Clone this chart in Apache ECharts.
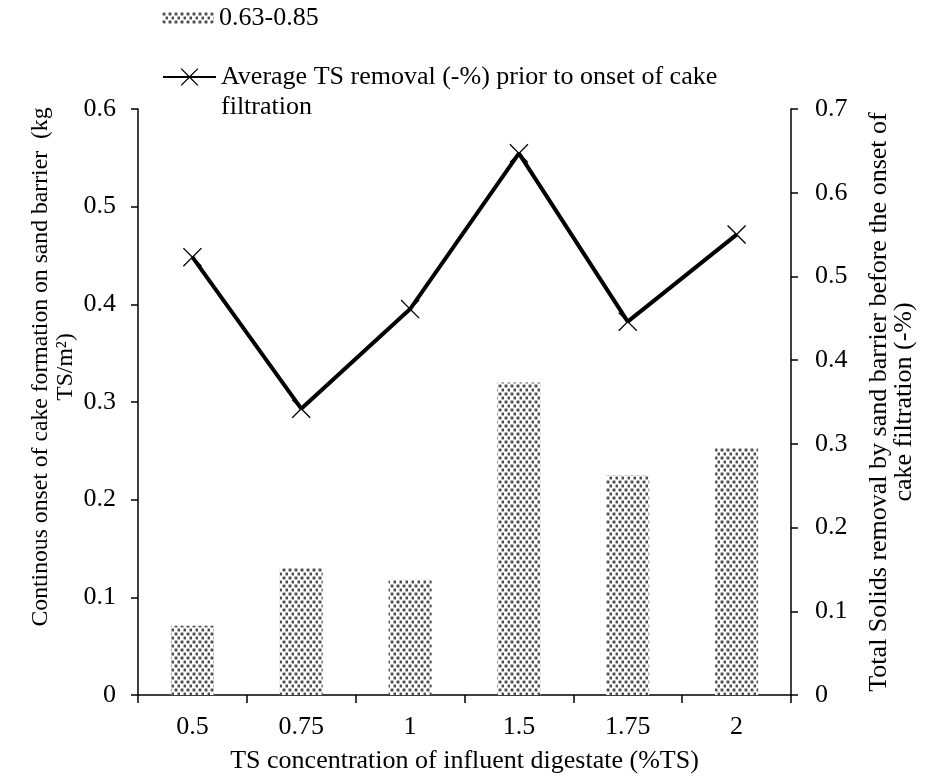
<!DOCTYPE html>
<html>
<head>
<meta charset="utf-8">
<script src="https://cdn.jsdelivr.net/npm/echarts@6/dist/echarts.min.js"></script>
<style>
  html, body { margin: 0; padding: 0; background: #fff; }
  #chart { width: 931px; height: 780px; }
</style>
</head>
<body>
<div id="chart"></div>
<script>
// categories (TS concentration, %TS)
var categories = ['0.5', '0.75', '1', '1.5', '1.75', '2'];
// bars: continous onset of cake formation (kg TS/m2), left axis
var cakeOnset = [0.071, 0.130, 0.118, 0.320, 0.225, 0.253];
// line: average TS removal prior to onset of cake filtration, right axis
var tsRemoval = [0.523, 0.342, 0.461, 0.647, 0.446, 0.550];
var leftTicks = [0, 0.1, 0.2, 0.3, 0.4, 0.5, 0.6];
var rightTicks = [0, 0.1, 0.2, 0.3, 0.4, 0.5, 0.6, 0.7];

var barName = '0.63-0.85';
var lineName = 'Average TS removal (-%) prior to onset of cake filtration';

var font = 'Liberation Serif, Times New Roman, serif';

// dotted fill like the original
function makeDots() {
    var c = document.createElement('canvas');
    c.width = 6;
    c.height = 8;
    var ctx = c.getContext('2d');
    ctx.fillStyle = '#ffffff';
    ctx.fillRect(0, 0, 6, 8);
    [[1, 1], [4, 5]].forEach(function (p) {
        ctx.fillStyle = '#dadada';
        ctx.fillRect(p[0] - 1, p[1] - 1, 4, 4);
        ctx.fillStyle = '#b0b0b0';
        ctx.fillRect(p[0] - 1, p[1], 4, 2);
        ctx.fillRect(p[0], p[1] - 1, 2, 4);
        ctx.fillStyle = '#4a4a4a';
        ctx.fillRect(p[0], p[1], 2, 2);
    });
    return c;
}

var xMark = 'path://M0,1L1,0L10,9L19,0L20,1L11,10L20,19L19,20L10,11L1,20L0,19L9,10Z';

var chart = echarts.init(document.getElementById('chart'));

var axisLineStyle = { show: true, lineStyle: { color: '#000', width: 1.5 } };

var option = {
    backgroundColor: '#fff',
    animation: false,
    textStyle: { fontFamily: font },
    grid: { left: 138, right: 140, top: 109, bottom: 85 },
    legend: [
        {
            data: [barName],
            left: 162,
            top: 4,
            padding: 0,
            itemWidth: 52,
            itemHeight: 12,
            itemGap: 5,
            textStyle: { fontFamily: font, fontSize: 26, color: '#000', lineHeight: 28 }
        },
        {
            data: [lineName],
            left: 162,
            top: 32,
            padding: 0,
            itemWidth: 53,
            itemHeight: 22,
            itemGap: 5,
            formatter: function () {
                return '\nAverage TS removal (-%) prior to onset of cake\nfiltration';
            },
            textStyle: { fontFamily: font, fontSize: 26, color: '#000', lineHeight: 30 }
        }
    ],
    xAxis: {
        type: 'category',
        data: categories,
        name: 'TS concentration of influent digestate (%TS)',
        nameLocation: 'middle',
        nameGap: 53,
        nameTextStyle: { fontFamily: font, fontSize: 26, color: '#000' },
        axisLine: axisLineStyle,
        axisTick: { show: true, length: 8, lineStyle: { color: '#000', width: 1.5 } },
        axisLabel: { margin: 19, fontFamily: font, fontSize: 26, color: '#000' }
    },
    yAxis: [
        {
            type: 'value',
            min: leftTicks[0],
            max: leftTicks[leftTicks.length - 1],
            interval: 0.1,
            position: 'left',
            name: 'Continous onset of cake formation on sand barrier  (kg\nTS/m\u00B2)',
            nameLocation: 'middle',
            nameRotate: 90,
            nameGap: 60,
            nameMoveOverlap: false,
            nameTextStyle: {
                fontFamily: font, fontSize: 23.7, color: '#000', lineHeight: 25,
                padding: [0, 0, 0, 70]
            },
            axisLine: axisLineStyle,
            axisTick: { show: true, length: 7, lineStyle: { color: '#000', width: 1.5 } },
            splitLine: { show: false },
            axisLabel: {
                margin: 22, fontFamily: font, fontSize: 26, color: '#000',
                formatter: function (v) { return v === 0 ? '0' : v.toFixed(1); }
            }
        },
        {
            type: 'value',
            min: rightTicks[0],
            max: rightTicks[rightTicks.length - 1],
            interval: 0.1,
            position: 'right',
            name: 'Total Solids removal by sand barrier before the onset of\ncake filtration (-%)',
            nameLocation: 'middle',
            nameRotate: 90,
            nameGap: 76,
            nameTextStyle: { fontFamily: font, fontSize: 26, color: '#000', lineHeight: 25 },
            axisLine: axisLineStyle,
            axisTick: { show: true, length: 7, lineStyle: { color: '#000', width: 1.5 } },
            splitLine: { show: false },
            axisLabel: {
                margin: 24, fontFamily: font, fontSize: 26, color: '#000',
                formatter: function (v) { return v === 0 ? '0' : v.toFixed(1); }
            }
        }
    ],
    series: [
        {
            name: barName,
            type: 'bar',
            yAxisIndex: 0,
            barWidth: 43,
            itemStyle: { color: { image: makeDots(), repeat: 'repeat' } },
            data: cakeOnset
        },
        {
            name: lineName,
            type: 'line',
            yAxisIndex: 1,
            symbol: xMark,
            symbolSize: 19,
            lineStyle: { color: '#000', width: 4 },
            itemStyle: { color: '#000' },
            data: tsRemoval
        }
    ]
};

chart.setOption(option);
</script>
</body>
</html>
